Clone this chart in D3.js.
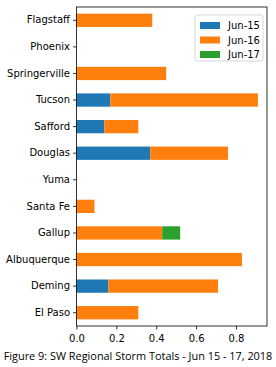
<!DOCTYPE html>
<html>
<head>
<meta charset="utf-8">
<script src="https://cdn.jsdelivr.net/npm/d3@7"></script>
<style>
  body { margin: 0; background: #fff; }
  svg { display: block; }
</style>
</head>
<body>
<div class="chart"></div>
<script>
// chart values
var stations = ["Flagstaff", "Phoenix", "Springerville", "Tucson", "Safford", "Douglas",
  "Yuma", "Santa Fe", "Gallup", "Albuquerque", "Deming", "El Paso"];
var jun15 = [0, 0, 0, 0.17, 0.14, 0.37, 0, 0, 0, 0, 0.16, 0];
var jun16 = [0.38, 0, 0.45, 0.74, 0.17, 0.39, 0, 0.09, 0.43, 0.83, 0.55, 0.31];
var jun17 = [0, 0, 0, 0, 0, 0, 0, 0, 0.09, 0, 0, 0];
var seriesNames = ["Jun-15", "Jun-16", "Jun-17"];
var xTicks = [0, 0.2, 0.4, 0.6, 0.8];
var titleText = "Figure 9: SW Regional Storm Totals - Jun 15 - 17, 2018";

var colors = ["#1f77b4", "#ff7f0e", "#2ca02c"];

var svgWidth = 276, svgHeight = 367;
var margin = { top: 7, right: 9, bottom: 41, left: 76.5 };
var width = svgWidth - margin.left - margin.right;
var height = svgHeight - margin.top - margin.bottom;

var svg = d3.select(".chart").append("svg")
  .attr("width", svgWidth)
  .attr("height", svgHeight);

var chartGroup = svg.append("g")
  .attr("transform", `translate(${margin.left}, ${margin.top})`);

// build rows for stacking
var rows = stations.map(function(s, i) {
  return { station: s, "Jun-15": jun15[i], "Jun-16": jun16[i], "Jun-17": jun17[i] };
});
var stacked = d3.stack().keys(seriesNames)(rows);

var maxTotal = d3.max(rows, d => d["Jun-15"] + d["Jun-16"] + d["Jun-17"]);

var xScale = d3.scaleLinear()
  .domain([0, maxTotal * 1.05])
  .range([0, width]);

var yScale = d3.scaleBand()
  .domain(stations)
  .range([0, height])
  .paddingInner(0.5)
  .paddingOuter(0.25);

// bars
chartGroup.selectAll("g.series")
  .data(stacked)
  .enter()
  .append("g")
  .attr("class", "series")
  .attr("fill", (d, i) => colors[i])
  .selectAll("rect")
  .data(d => d)
  .enter()
  .append("rect")
  .attr("x", d => xScale(d[0]))
  .attr("y", d => yScale(d.data.station))
  .attr("width", d => xScale(d[1]) - xScale(d[0]))
  .attr("height", yScale.bandwidth());

// axes
var xAxis = d3.axisBottom(xScale).tickValues(xTicks).tickFormat(d3.format(".1f")).tickSize(3.5).tickSizeOuter(0);
var yAxis = d3.axisLeft(yScale).tickSize(3.5).tickSizeOuter(0);

var gx = chartGroup.append("g")
  .attr("transform", `translate(0, ${height})`)
  .call(xAxis);
var gy = chartGroup.append("g").call(yAxis);

[gx, gy].forEach(function(g) {
  g.select(".domain").remove();
  g.selectAll("text")
    .attr("font-family", "DejaVu Sans")
    .attr("font-size", "10px")
    .attr("fill", "#000");
  g.selectAll("line").attr("stroke", "#000").attr("stroke-width", 0.8);
});
gx.selectAll("text").attr("dy", "0.95em");

// frame
chartGroup.append("rect")
  .attr("width", width)
  .attr("height", height)
  .attr("fill", "none")
  .attr("stroke", "#000")
  .attr("stroke-width", 0.8);

// legend
var legend = chartGroup.append("g")
  .attr("transform", `translate(${width - 72}, 8)`);
legend.append("rect")
  .attr("width", 68)
  .attr("height", 46)
  .attr("rx", 2)
  .attr("fill", "#fff")
  .attr("fill-opacity", 0.8)
  .attr("stroke", "#ccc")
  .attr("stroke-width", 0.8);
seriesNames.forEach(function(name, i) {
  var row = legend.append("g").attr("transform", `translate(5, ${7 + i * 14.5})`);
  row.append("rect")
    .attr("width", 20)
    .attr("height", 7)
    .attr("fill", colors[i]);
  row.append("text")
    .attr("x", 28)
    .attr("y", 3.5)
    .attr("dy", "0.35em")
    .attr("font-family", "DejaVu Sans")
    .attr("font-size", "10px")
    .text(name);
});

// title
svg.append("text")
  .attr("x", 138)
  .attr("y", 360)
  .attr("text-anchor", "middle")
  .attr("font-family", "Open Sans")
  .attr("font-size", "10.9px")
  .attr("fill", "#000")
  .text(titleText);
</script>
</body>
</html>
